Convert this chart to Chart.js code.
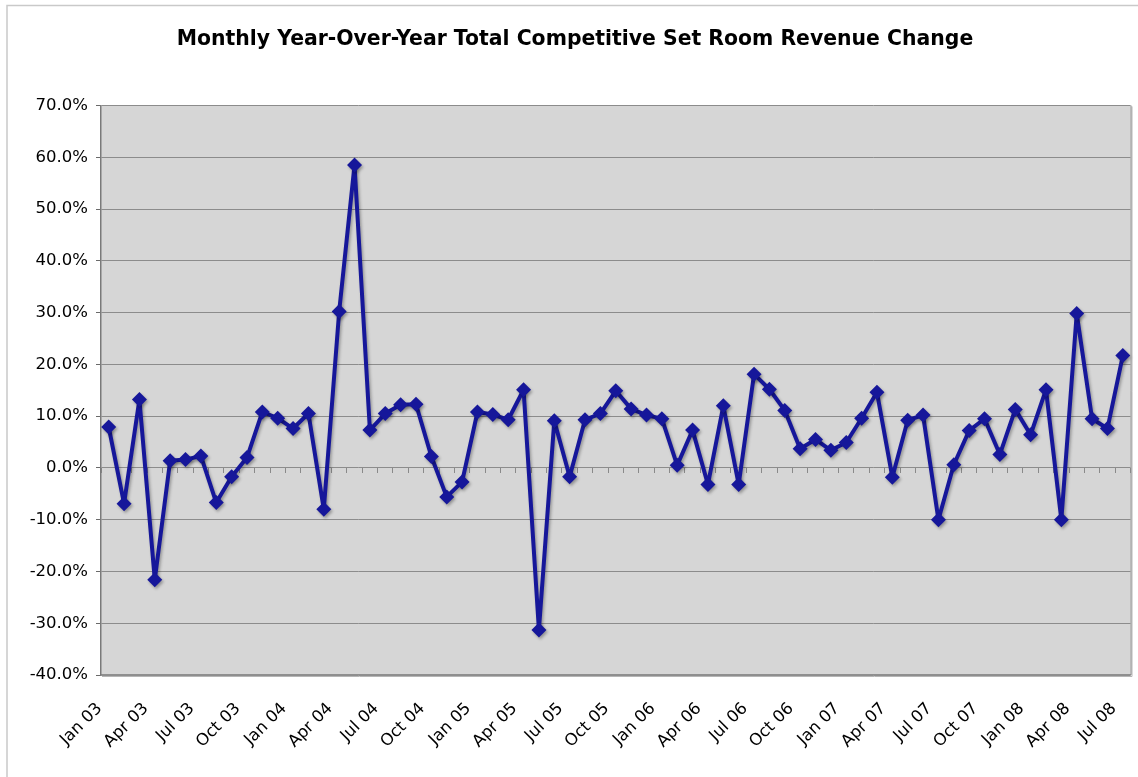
<!DOCTYPE html>
<html>
<head>
<meta charset="utf-8">
<script src="https://cdn.jsdelivr.net/npm/chart.js@4/dist/chart.umd.min.js"></script>
<style>
  html, body { margin: 0; padding: 0; background: #ffffff; }
  #wrap { width: 1138px; height: 777px; position: relative; }
</style>
</head>
<body>
<div id="wrap"><canvas id="c" width="1138" height="777"></canvas></div>
<script>
const chartTitle = "Monthly Year-Over-Year Total Competitive Set Room Revenue Change";

const months = [
  "Jan 03","Feb 03","Mar 03","Apr 03","May 03","Jun 03","Jul 03","Aug 03","Sep 03","Oct 03","Nov 03","Dec 03",
  "Jan 04","Feb 04","Mar 04","Apr 04","May 04","Jun 04","Jul 04","Aug 04","Sep 04","Oct 04","Nov 04","Dec 04",
  "Jan 05","Feb 05","Mar 05","Apr 05","May 05","Jun 05","Jul 05","Aug 05","Sep 05","Oct 05","Nov 05","Dec 05",
  "Jan 06","Feb 06","Mar 06","Apr 06","May 06","Jun 06","Jul 06","Aug 06","Sep 06","Oct 06","Nov 06","Dec 06",
  "Jan 07","Feb 07","Mar 07","Apr 07","May 07","Jun 07","Jul 07","Aug 07","Sep 07","Oct 07","Nov 07","Dec 07",
  "Jan 08","Feb 08","Mar 08","Apr 08","May 08","Jun 08","Jul 08"
];

// Year-over-year room revenue change, percent
const revenueChange = [
  7.9, -6.9, 13.2, -21.6, 1.4, 1.6, 2.3, -6.7, -1.7, 2.0, 10.8, 9.6,
  7.6, 10.5, -8.0, 30.2, 58.5, 7.3, 10.5, 12.2, 12.3, 2.2, -5.6, -2.7,
  10.8, 10.3, 9.3, 15.1, -31.3, 9.1, -1.7, 9.3, 10.5, 14.9, 11.4, 10.2,
  9.5, 0.5, 7.3, -3.2, 12.0, -3.2, 18.1, 15.2, 11.1, 3.7, 5.5, 3.4,
  4.9, 9.6, 14.6, -1.8, 9.2, 10.2, -10.0, 0.6, 7.2, 9.5, 2.6, 11.3,
  6.4, 15.1, -10.0, 29.8, 9.5, 7.6, 21.7
];

// Labelled category ticks (every third month)
const tickLabels = [
  "Jan 03","Apr 03","Jul 03","Oct 03","Jan 04","Apr 04","Jul 04","Oct 04",
  "Jan 05","Apr 05","Jul 05","Oct 05","Jan 06","Apr 06","Jul 06","Oct 06",
  "Jan 07","Apr 07","Jul 07","Oct 07","Jan 08","Apr 08","Jul 08"
];

const yMin = -40, yMax = 70, yStep = 10;

const frame = {
  id: 'frame',
  beforeDraw(chart) {
    const ctx = chart.ctx;
    const a = chart.chartArea;
    ctx.save();
    ctx.strokeStyle = '#c9c9c9';
    ctx.lineWidth = 1.5;
    ctx.beginPath();
    ctx.moveTo(7, 777);
    ctx.lineTo(7, 5.5);
    ctx.lineTo(1138, 5.5);
    ctx.stroke();
    ctx.fillStyle = '#d6d6d6';
    ctx.fillRect(a.left, a.top, a.right - a.left, a.bottom - a.top);
    ctx.restore();
  },
  afterDraw(chart) {
    const ctx = chart.ctx;
    const a = chart.chartArea;
    ctx.save();
    ctx.strokeStyle = '#b5b5b5';
    ctx.lineWidth = 1;
    ctx.beginPath();
    ctx.moveTo(a.right + 1.5, a.top + 1);
    ctx.lineTo(a.right + 1.5, a.bottom + 1.5);
    ctx.lineTo(a.left + 1, a.bottom + 1.5);
    ctx.stroke();
    ctx.strokeStyle = '#8a8a8a';
    ctx.beginPath();
    ctx.moveTo(a.right + 0.5, a.top);
    ctx.lineTo(a.right + 0.5, a.bottom);
    ctx.stroke();
    ctx.restore();
  }
};

const shadow = {
  id: 'shadow',
  beforeDatasetDraw(chart) {
    const ctx = chart.ctx;
    ctx.save();
    ctx.shadowColor = 'rgba(0,0,0,0.3)';
    ctx.shadowBlur = 3;
    ctx.shadowOffsetX = 1.5;
    ctx.shadowOffsetY = 2;
  },
  afterDatasetDraw(chart) {
    chart.ctx.restore();
  }
};

new Chart(document.getElementById('c'), {
  type: 'line',
  data: {
    labels: months,
    datasets: [{
      data: revenueChange,
      borderColor: '#16179a',
      backgroundColor: '#16179a',
      borderWidth: 4,
      borderJoinStyle: 'round',
      borderCapStyle: 'round',
      pointStyle: 'rectRot',
      pointRadius: 7.5,
      pointHoverRadius: 7.5,
      pointBorderWidth: 0,
      tension: 0,
      fill: false,
      clip: 10
    }]
  },
  options: {
    responsive: false,
    animation: false,
    events: [],
    layout: { padding: { left: 19, right: 7, top: 0, bottom: 0 } },
    plugins: {
      legend: { display: false },
      tooltip: { enabled: false },
      title: {
        display: true,
        text: chartTitle,
        color: '#000000',
        font: { family: 'DejaVu Sans', size: 20.4, weight: 'bold' },
        padding: { top: 27, bottom: 54 }
      }
    },
    scales: {
      x: {
        type: 'category',
        offset: true,
        position: 'bottom',
        grid: { display: false },
        border: { display: true, color: '#8f8f8f', width: 1.5 },
        ticks: {
          autoSkip: false,
          minRotation: 45,
          maxRotation: 45,
          padding: 16,
          labelOffset: -9,
          color: '#000000',
          font: { family: 'DejaVu Sans', size: 16.5 },
          callback: function(v, i) {
            return tickLabels.includes(months[i]) ? months[i] : '';
          }
        },
        afterFit(scale) {
          scale.height = 102;
          scale.paddingLeft = 0;
          scale.paddingRight = 0;
        }
      },
      x0: {
        type: 'category',
        offset: true,
        position: { y: 0 },
        grid: {
          display: true,
          offset: true,
          drawOnChartArea: false,
          drawTicks: true,
          tickLength: 5,
          color: '#8a8a8a',
          lineWidth: 1
        },
        border: { display: false },
        ticks: { display: false },
        afterFit(scale) {
          scale.paddingLeft = 0;
          scale.paddingRight = 0;
        }
      },
      y: {
        type: 'linear',
        min: yMin,
        max: yMax,
        grid: {
          color: '#8c8c8c',
          lineWidth: 1,
          drawTicks: true,
          tickLength: 5,
          tickColor: '#6a6a6a'
        },
        border: { display: true, color: '#7a7a7a', width: 1.5 },
        ticks: {
          stepSize: yStep,
          padding: 8,
          color: '#000000',
          font: { family: 'DejaVu Sans', size: 16.5 },
          callback: v => v.toFixed(1) + '%'
        },
        afterFit(scale) { scale.width = 82; }
      }
    }
  },
  plugins: [frame, shadow]
});
</script>
</body>
</html>
